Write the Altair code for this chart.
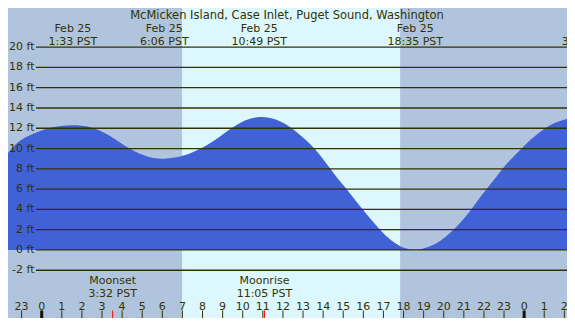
import altair as alt
import pandas as pd

# Tide curve (hours since midnight Feb 25, feet)
tide_hours = [-2.07, -1.58, -1.08, -0.58, 0.41, 1.49, 2.40, 3.40, 4.39, 5.39, 6.05,
              7.04, 7.88, 8.37, 8.87, 9.37, 9.86, 10.36, 10.86, 11.36, 11.85, 12.35,
              12.85, 13.35, 13.85, 14.34, 14.84, 15.34, 15.84, 16.33, 16.83, 17.33,
              17.82, 18.32, 18.82, 19.32, 19.82, 20.31, 20.81, 21.31, 21.81, 22.30,
              22.80, 23.30, 23.80, 24.29, 24.79, 25.29, 25.79, 26.53]
tide_ft = [8.55, 9.86, 10.85, 11.34, 12.16, 12.36, 12.23, 11.34, 9.86, 9.04, 8.94,
           9.2, 9.98, 10.5, 11.2, 11.9, 12.55, 12.98, 13.15, 13.05, 12.75, 12.16,
           11.34, 10.5, 9.37, 8.06, 6.74, 5.59, 4.27, 3.13, 1.97, 0.99,
           0.33, 0.0, 0.0, 0.33, 0.82, 1.64, 2.63, 3.78, 5.26, 6.41,
           7.72, 8.88, 9.86, 10.85, 11.67, 12.33, 12.75, 13.09]

# Day / night shading
shade_start = [-2.075, 6.98]
shade_end = [26.53, 17.83]
shade_kind = ["night", "day"]

# High / low labels
hl_hours = [1.55, 6.1, 10.82, 18.58, 27.08]
hl_dates = ["Feb 25", "Feb 25", "Feb 25", "Feb 25", "Feb 26"]
hl_times = ["1:33 PST", "6:06 PST", "10:49 PST", "18:35 PST", "3:05 PST"]

# Moon events
moon_hours = [3.53, 11.08]
moon_names = ["Moonset", "Moonrise"]
moon_times = ["3:32 PST", "11:05 PST"]

# Height grid
grid_ft = [-2, 0, 2, 4, 6, 8, 10, 12, 14, 16, 18, 20]

# Hour ticks
tick_hours = list(range(-2, 27))

title_text = "McMicken Island, Case Inlet, Puget Sound, Washington"

# The plot fills the page inside its 8px margin; chart coords = page coords - 8
W, H = 559, 310
FONT = "DejaVu Sans"
FS = 11
TXT = "#333300"

xs = alt.Scale(domain=[-2.075, 26.53], range=[-8, 567])
ys = alt.Scale(domain=[-7.5, 24.65], range=[318, -8])

tide = pd.DataFrame({"h": tide_hours, "ft": tide_ft})
shade = pd.DataFrame({"s": shade_start, "e": shade_end, "k": shade_kind})
hl = pd.DataFrame({"h": hl_hours, "d": hl_dates, "t": hl_times})
moon = pd.DataFrame({"h": moon_hours, "n": moon_names, "t": moon_times})
grid = pd.DataFrame({"ft": grid_ft, "lab": [f"{v} ft" for v in grid_ft]})
ticks = pd.DataFrame({"h": tick_hours,
                      "lab": [str(h % 24) for h in tick_hours],
                      "mid": [h % 24 == 0 for h in tick_hours]})


def txt(size=FS):
    return dict(font=FONT, fontSize=size, color=TXT, align="center",
                baseline="alphabetic")


bg = alt.Chart(shade).mark_rect().encode(
    x=alt.X("s:Q", scale=xs, axis=None),
    x2="e:Q",
    y=alt.value(0), y2=alt.value(H),
    color=alt.Color("k:N", scale=alt.Scale(domain=["night", "day"],
                                           range=["#b0c4de", "#ddf7ff"]), legend=None),
)

area = alt.Chart(tide).mark_area(color="#4161d6", interpolate="basis").encode(
    x=alt.X("h:Q", scale=xs, axis=None),
    y=alt.Y("ft:Q", scale=ys, axis=None),
    y2=alt.value(H),
)

gridlines = alt.Chart(grid).mark_rule(color=TXT, strokeWidth=1.3).encode(
    y=alt.Y("ft:Q", scale=ys, axis=None),
    x=alt.value(28), x2=alt.value(W),
)

ylabels = alt.Chart(grid).mark_text(font=FONT, fontSize=FS, color=TXT,
                                    align="right", baseline="middle").encode(
    y=alt.Y("ft:Q", scale=ys, axis=None),
    x=alt.value(26.5),
    text="lab:N",
)

title = alt.Chart(pd.DataFrame({"t": [title_text]})).mark_text(**txt(11.5)).encode(
    x=alt.value(279), y=alt.value(10.8), text="t:N")

hl_date = alt.Chart(hl).mark_text(**txt()).encode(
    x=alt.X("h:Q", scale=xs, axis=None), y=alt.value(23.8), text="d:N")
hl_time = alt.Chart(hl).mark_text(**txt()).encode(
    x=alt.X("h:Q", scale=xs, axis=None), y=alt.value(36.7), text="t:N")

moon_name = alt.Chart(moon).mark_text(**txt()).encode(
    x=alt.X("h:Q", scale=xs, axis=None), y=alt.value(275.5), text="n:N")
moon_time = alt.Chart(moon).mark_text(**txt()).encode(
    x=alt.X("h:Q", scale=xs, axis=None), y=alt.value(288.5), text="t:N")
moon_ticks = alt.Chart(moon).mark_rule(color="#ff0000", strokeWidth=1).encode(
    x=alt.X("h:Q", scale=xs, axis=None), y=alt.value(302.5), y2=alt.value(H))

hour_labels = alt.Chart(ticks).mark_text(**txt()).encode(
    x=alt.X("h:Q", scale=xs, axis=None), y=alt.value(301.5), text="lab:N")
hour_ticks = alt.Chart(ticks).transform_filter("!datum.mid").mark_rule(
    color=TXT, strokeWidth=1).encode(
    x=alt.X("h:Q", scale=xs, axis=None), y=alt.value(302.5), y2=alt.value(H))
mid_ticks = alt.Chart(ticks).transform_filter("datum.mid").mark_rule(
    color="#111100", strokeWidth=3).encode(
    x=alt.X("h:Q", scale=xs, axis=None), y=alt.value(302.5), y2=alt.value(H))

chart = alt.layer(
    bg, area, gridlines, ylabels, title, hl_date, hl_time,
    moon_name, moon_time, moon_ticks, hour_labels, hour_ticks, mid_ticks,
).properties(
    width=W, height=H,
    autosize=alt.AutoSizeParams(type="none"),
    padding=0,
).configure_view(stroke=None).configure(background="white")

chart.save("out.html", embed_options={"renderer": "svg", "actions": False})
